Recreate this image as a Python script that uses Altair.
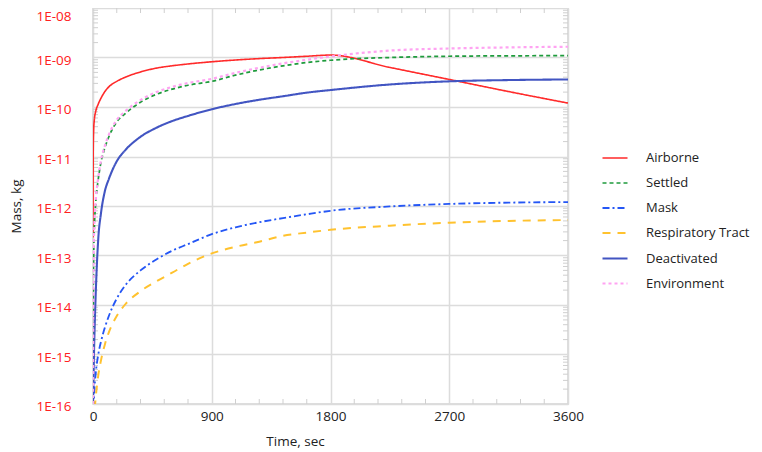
import altair as alt
import pandas as pd

# ---- data ----
time_s = [0, 2, 5, 10, 20, 40, 60, 90, 120, 180, 240, 360, 480, 600, 720,
          900, 1080, 1260, 1440, 1620, 1800, 2250, 2700, 3150, 3600]

airborne = [2.3e-13, 1.5e-11, 3.5e-11, 5.5e-11, 8e-11, 1.15e-10, 1.5e-10, 2.05e-10, 2.55e-10,
            3.3e-10, 3.95e-10, 5.1e-10, 6.1e-10, 6.8e-10, 7.4e-10,
            8.2e-10, 8.9e-10, 9.5e-10, 1.0e-09, 1.06e-09, 1.12e-09, 6.3e-10, 3.6e-10, 2.05e-10, 1.2e-10]
settled = [1.0e-16, 1.5e-14, 1.0e-13, 3.5e-13, 1.1e-12, 3.5e-12, 7.5e-12, 1.5e-11, 2.5e-11,
           5.0e-11, 7.2e-11, 1.25e-10, 1.8e-10, 2.3e-10, 2.75e-10,
           3.3e-10, 4.4e-10, 5.6e-10, 6.8e-10, 7.9e-10, 8.8e-10, 1.0e-09, 1.06e-09, 1.08e-09, 1.09e-09]
mask = [1e-17, 3e-17, 8e-17, 1.8e-16, 4e-16, 1.0e-15, 1.8e-15, 3.5e-15, 6e-15,
        1.35e-14, 2.4e-14, 5e-14, 8.3e-14, 1.25e-13, 1.7e-13,
        2.7e-13, 3.7e-13, 4.7e-13, 5.7e-13, 6.8e-13, 8e-13, 9.8e-13, 1.1e-12, 1.17e-12, 1.2e-12]
respiratory = [5e-18, 1e-17, 3e-17, 6e-17, 1.3e-16, 3.8e-16, 7.5e-16, 1.6e-15, 2.8e-15,
               6e-15, 1.0e-14, 1.9e-14, 3.0e-14, 4.5e-14, 6.8e-14,
               1.1e-13, 1.5e-13, 1.9e-13, 2.5e-13, 2.9e-13, 3.3e-13, 4.0e-13, 4.6e-13, 5.0e-13, 5.2e-13]
deactivated = [1.0e-16, 2e-16, 5e-16, 2e-15, 1.5e-14, 2.2e-13, 7e-13, 2e-12, 3.5e-12,
               8e-12, 1.3e-11, 2.5e-11, 3.8e-11, 5.2e-11, 6.6e-11,
               9e-11, 1.15e-10, 1.4e-10, 1.65e-10, 1.95e-10, 2.2e-10, 2.85e-10, 3.3e-10, 3.5e-10, 3.6e-10]
environment = [1.0e-16, 1.6e-14, 1.1e-13, 3.8e-13, 1.2e-12, 3.8e-12, 8.2e-12, 1.65e-11, 2.75e-11,
               5.5e-11, 8e-11, 1.38e-10, 2.0e-10, 2.55e-10, 3.05e-10,
               3.7e-10, 4.9e-10, 6.2e-10, 7.6e-10, 9.0e-10, 1.05e-09, 1.38e-09, 1.52e-09, 1.6e-09, 1.65e-09]

series_names = ["Airborne", "Settled", "Mask", "Respiratory Tract", "Deactivated", "Environment"]
series_values = [airborne, settled, mask, respiratory, deactivated, environment]

y_major = [1e-16, 1e-15, 1e-14, 1e-13, 1e-12, 1e-11, 1e-10, 1e-09, 1e-08]
x_major = [0, 900, 1800, 2700, 3600]
x_minor = [180, 360, 540, 720, 1080, 1260, 1440, 1620, 1980, 2160, 2340, 2520,
           2880, 3060, 3240, 3420]
y_minor_mult = [2, 3, 4, 5, 6, 7, 8, 9]

# ---- styles ----
colors = ["#FF2A2A", "#1E9B3C", "#2456F5", "#FFC22E", "#4255C2", "#FFA3F2"]
dashes = [[1, 0], [4, 3], [7, 3, 2, 3], [8, 7], [1, 0], [3, 3]]
widths = [1.6, 2.2, 2.2, 1.8, 2.0, 2.0]

rows = []
for name, vals in zip(series_names, series_values):
    for t, v in zip(time_s, vals):
        rows.append({"Time": t, "Mass": v, "Series": name})
df = pd.DataFrame(rows)

minor_y_df = pd.DataFrame({"v": [m * d for d in y_major[:-1] for m in y_minor_mult]})
minor_x_df = pd.DataFrame({"t": x_minor})

W, H = 475, 396
FONT = "Open Sans"

xscale = alt.Scale(domain=[0, 3600], nice=False, zero=False)
yscale = alt.Scale(type="log", domain=[1e-16, 1e-8], nice=False)

label_expr = ("'1E-' + (abs(round(log(datum.value)/LN10)) < 10 ? '0' : '') + "
              "abs(round(log(datum.value)/LN10))")

lines = alt.Chart(df).mark_line(clip=True, interpolate="monotone").encode(
    x=alt.X("Time:Q", scale=xscale,
            axis=alt.Axis(values=x_major, format="d", title="Time, sec", grid=True, tickSize=0,
                          labelPadding=5, labelFontSize=13.5, labelColor="#222222",
                          titleFontSize=13.5, titleFontWeight="normal", titleColor="#222222",
                          titleX=202, titlePadding=12, domain=False, labelFlush=False)),
    y=alt.Y("Mass:Q", scale=yscale,
            axis=alt.Axis(values=y_major, labelExpr=label_expr, title="Mass, kg", grid=True,
                          tickSize=0, labelPadding=22, labelFontSize=13.5, labelColor="#FF2020",
                          labelOffset={"condition": {"test": "datum.value > 5e-9", "value": 8.5},
                                       "value": 2.5},
                          titleFontSize=13.5, titleFontWeight="normal", titleColor="#222222",
                          titlePadding=12, domain=False)),
    color=alt.Color("Series:N", sort=series_names,
                    scale=alt.Scale(domain=series_names, range=colors),
                    legend=alt.Legend(title=None, orient="none", legendX=508, legendY=136.5,
                                      symbolType="stroke", symbolSize=625, labelOffset=17,
                                      labelFontSize=13, labelColor="#222222", rowPadding=4)),
    strokeDash=alt.StrokeDash("Series:N", sort=series_names,
                              scale=alt.Scale(domain=series_names, range=dashes), legend=None),
    strokeWidth=alt.StrokeWidth("Series:N", sort=series_names,
                                scale=alt.Scale(domain=series_names, range=widths), legend=None),
    order=alt.Order("Series:N"),
)

tick_color = "#CFCFCF"
ytick_left = alt.Chart(minor_y_df).mark_rule(color=tick_color, strokeWidth=1).encode(
    y=alt.Y("v:Q", scale=yscale), x=alt.value(0), x2=alt.value(5))
ytick_right = alt.Chart(minor_y_df).mark_rule(color=tick_color, strokeWidth=1).encode(
    y=alt.Y("v:Q", scale=yscale), x=alt.value(W - 5), x2=alt.value(W))
xtick_bottom = alt.Chart(minor_x_df).mark_rule(color=tick_color, strokeWidth=1).encode(
    x=alt.X("t:Q", scale=xscale), y=alt.value(H - 5), y2=alt.value(H))
xtick_top = alt.Chart(minor_x_df).mark_rule(color=tick_color, strokeWidth=1).encode(
    x=alt.X("t:Q", scale=xscale), y=alt.value(0), y2=alt.value(5))

chart = alt.layer(ytick_left, ytick_right, xtick_bottom, xtick_top, lines).properties(
    width=W, height=H,
    autosize=alt.AutoSizeParams(type="none"),
    padding={"left": 85, "top": 0, "right": 186, "bottom": 48},
).configure(font=FONT).configure_axis(
    gridColor="#DCDCDC", gridWidth=1.5,
).configure_view(
    stroke="#D4D4D4", strokeWidth=1.5,
)

chart.save("out.html", embed_options={"renderer": "svg", "actions": False})
